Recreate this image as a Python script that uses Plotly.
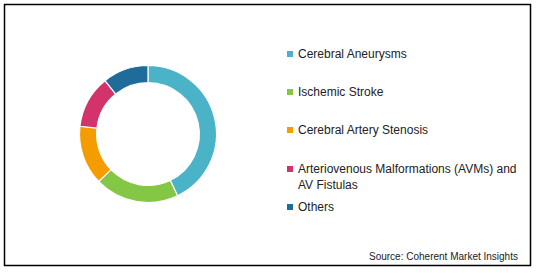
import plotly.graph_objects as go

categories = ["Cerebral Aneurysms", "Ischemic Stroke", "Cerebral Artery Stenosis",
              "Arteriovenous Malformations (AVMs) and<br>AV Fistulas", "Others"]
values = [42.9, 19.9, 14.0, 12.4, 10.8]
colors = ["#4BB3C7", "#84C745", "#F59C00", "#D2336B", "#1F6B9A"]
source_text = "Source: Coherent Market Insights"

W, H = 537, 273
FONT = "Liberation Sans, Arial, sans-serif"

fig = go.Figure(go.Pie(
    labels=categories, values=values, hole=0.75, sort=False,
    direction="clockwise", rotation=0,
    marker=dict(colors=colors, line=dict(color="white", width=1.2)),
    textinfo="none", hoverinfo="label+percent",
    domain=dict(x=[79.5 / W, 216.5 / W], y=[(H - 203) / H, (H - 65) / H]),
    showlegend=False,
))

# legend built from categories
legend_y = [54, 92, 130, 169, 207]
shapes = []
annotations = []
for cat, col, ly in zip(categories, colors, legend_y):
    shapes.append(dict(type="rect", xref="paper", yref="paper",
                       x0=287 / W, x1=293 / W, y0=(H - ly - 3) / H, y1=(H - ly + 3) / H,
                       fillcolor=col, line=dict(width=0)))
    cy = ly + 8 if "<br>" in cat else ly
    annotations.append(dict(x=295.5 / W, y=(H - cy) / H, xref="paper", yref="paper",
                            text=cat, showarrow=False, xanchor="left", yanchor="middle",
                            align="left",
                            font=dict(family=FONT, size=12, color="#222")))

annotations.append(dict(x=520 / W, y=(H - 256) / H, xref="paper", yref="paper",
                        text=source_text, showarrow=False, xanchor="right", yanchor="middle",
                        font=dict(family=FONT, size=10, color="#222")))

shapes.append(dict(type="rect", xref="paper", yref="paper",
                   x0=4.5 / W, x1=530.5 / W, y0=(H - 265.5) / H, y1=(H - 4.5) / H,
                   line=dict(color="black", width=1.5)))

fig.update_layout(width=W, height=H, margin=dict(l=0, r=0, t=0, b=0),
                  paper_bgcolor="white", plot_bgcolor="white",
                  shapes=shapes, annotations=annotations)

fig.write_html("out.html")
